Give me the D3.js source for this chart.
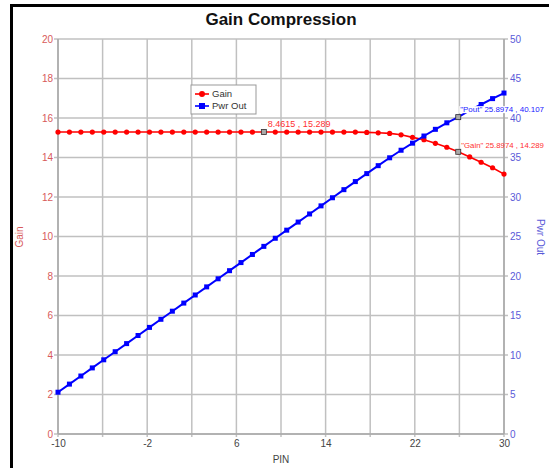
<!DOCTYPE html>
<html><head><meta charset="utf-8">
<script src="https://cdn.jsdelivr.net/npm/d3@7"></script>
<style>body{margin:0;background:#fff}svg{display:block;font-family:"Liberation Sans",Arial,sans-serif}</style>
</head><body><svg id="c" width="549" height="468"></svg>
<script>
const pin = [-10, -8.9744, -7.9487, -6.9231, -5.8974, -4.8718, -3.8462, -2.8205, -1.7949, -0.7692,
  0.2564, 1.2821, 2.3077, 3.3333, 4.359, 5.3846, 6.4103, 7.4359, 8.4615, 9.4872,
  10.5128, 11.5385, 12.5641, 13.5897, 14.6154, 15.641, 16.6667, 17.6923, 18.7179, 19.7436,
  20.7692, 21.7949, 22.8205, 23.8462, 24.8718, 25.8974, 26.9231, 27.9487, 28.9744, 30];
const gain = [15.289, 15.289, 15.289, 15.289, 15.289, 15.289, 15.289, 15.289, 15.289, 15.289,
  15.289, 15.289, 15.289, 15.289, 15.289, 15.289, 15.289, 15.289, 15.289, 15.289,
  15.289, 15.289, 15.289, 15.289, 15.289, 15.288, 15.285, 15.27, 15.25, 15.22,
  15.15, 15.02, 14.90, 14.72, 14.52, 14.289, 14.03, 13.76, 13.48, 13.16];
const pwrOut = [5.289, 6.3146, 7.3403, 8.3659, 9.3916, 10.4172, 11.4428, 12.4685, 13.4941, 14.5198,
  15.5454, 16.5711, 17.5967, 18.6223, 19.648, 20.6736, 21.6993, 22.7249, 23.7505, 24.7762,
  25.8018, 26.8275, 27.8531, 28.8787, 29.9044, 30.929, 31.9517, 32.9623, 33.9679, 34.9636,
  35.9192, 36.8149, 37.7205, 38.5662, 39.3918, 40.107, 40.953, 41.709, 42.454, 43.16];
const xGrid = [-10, -6, -2, 2, 6, 10, 14, 18, 22, 26, 30];
const xTickLabels = [-10, -2, 6, 14, 22, 30];
const gainTicks = [0, 2, 4, 6, 8, 10, 12, 14, 16, 18, 20];
const poutTicks = [0, 5, 10, 15, 20, 25, 30, 35, 40, 45, 50];
const seriesNames = ["Gain", "Pwr Out"];
const title = "Gain Compression";

const svg = d3.select("#c");
const L = 58, R = 504, T = 39, B = 434;
const x = d3.scaleLinear().domain([-10, 30]).range([L, R]);
const yL = d3.scaleLinear().domain([0, 20]).range([B, T]);
const yR = d3.scaleLinear().domain([0, 50]).range([B, T]);
const RED = "#ff0000", BLUE = "#0000ff", LRED = "#d85a5a", LBLUE = "#5a5ad8";
const fmt = d => String(d);

// frame (left and top edges visible)
svg.append("path").attr("d", "M11.5,470 L11.5,5.5 L560,5.5")
  .attr("fill", "none").attr("stroke", "#000").attr("stroke-width", 3);

// title
svg.append("text").attr("x", 281).attr("y", 25).attr("text-anchor", "middle")
  .attr("font-size", 17).attr("font-weight", "bold").attr("fill", "#111").text(title);

// grid
const g = svg.append("g");
g.selectAll("line").data(xGrid).join("line")
  .attr("x1", d => x(d)).attr("x2", d => x(d)).attr("y1", T).attr("y2", B + 3)
  .attr("stroke", "#c0c0c0").attr("stroke-width", 1.5);
const g2 = svg.append("g");
g2.selectAll("line").data(gainTicks).join("line")
  .attr("x1", L - 4).attr("x2", R + 4).attr("y1", d => yL(d)).attr("y2", d => yL(d))
  .attr("stroke", "#c0c0c0").attr("stroke-width", 1.5);
// axis lines
svg.append("line").attr("x1", L).attr("x2", L).attr("y1", T).attr("y2", B).attr("stroke", "#a8a8a8").attr("stroke-width", 1.5);
svg.append("line").attr("x1", R).attr("x2", R).attr("y1", T).attr("y2", B).attr("stroke", "#a8a8a8").attr("stroke-width", 1.5);
svg.append("line").attr("x1", L).attr("x2", R).attr("y1", B).attr("y2", B).attr("stroke", "#a8a8a8").attr("stroke-width", 1.5);

// axis tick labels
const axL = svg.append("g").attr("transform", `translate(${L},0)`)
  .call(d3.axisLeft(yL).tickValues(gainTicks).tickFormat(fmt).tickSize(0).tickPadding(5));
axL.select(".domain").remove();
axL.selectAll("text").attr("fill", LRED).attr("font-size", 10).attr("font-family", "Liberation Sans, Arial");
const axR = svg.append("g").attr("transform", `translate(${R},0)`)
  .call(d3.axisRight(yR).tickValues(poutTicks).tickFormat(fmt).tickSize(0).tickPadding(6));
axR.select(".domain").remove();
axR.selectAll("text").attr("fill", LBLUE).attr("font-size", 10).attr("font-family", "Liberation Sans, Arial");
const axB = svg.append("g").attr("transform", `translate(0,${B})`)
  .call(d3.axisBottom(x).tickValues(xTickLabels).tickFormat(fmt).tickSize(0).tickPadding(6));
axB.select(".domain").remove();
axB.selectAll("text").attr("fill", "#444").attr("font-size", 10).attr("font-family", "Liberation Sans, Arial");

// axis titles
svg.append("text").attr("transform", "translate(23,237) rotate(-90)").attr("text-anchor", "middle")
  .attr("font-size", 10).attr("fill", LRED).text("Gain");
svg.append("text").attr("transform", "translate(537,237) rotate(90)").attr("text-anchor", "middle")
  .attr("font-size", 10).attr("fill", LBLUE).text("Pwr Out");
svg.append("text").attr("x", 281).attr("y", 463).attr("text-anchor", "middle")
  .attr("font-size", 10).attr("fill", "#444").text("PIN");

// series
const gainData = pin.map((p, i) => [p, gain[i]]);
const poutData = pin.map((p, i) => [p, pwrOut[i]]);
svg.append("path").datum(gainData).attr("fill", "none").attr("stroke", RED).attr("stroke-width", 1.6)
  .attr("d", d3.line().x(d => x(d[0])).y(d => yL(d[1])));
svg.selectAll("circle.g").data(gainData).join("circle")
  .attr("cx", d => x(d[0])).attr("cy", d => yL(d[1])).attr("r", 2.6).attr("fill", RED);
svg.append("path").datum(poutData).attr("fill", "none").attr("stroke", BLUE).attr("stroke-width", 2)
  .attr("d", d3.line().x(d => x(d[0])).y(d => yR(d[1])));
svg.selectAll("rect.p").data(poutData).join("rect")
  .attr("x", d => x(d[0]) - 2.5).attr("y", d => yR(d[1]) - 2.5).attr("width", 5).attr("height", 5).attr("fill", BLUE);

// highlighted points & labels
const hl = [
  {i: 18, s: "g", text: `${pin[18]} , ${gain[18]}`, dx: 4, dy: -5, col: "#ff3030", bg: false},
  {i: 35, s: "g", text: `"Gain" ${pin[35]} , ${gain[35]}`, dx: 3, dy: -4, col: "#ff3030", bg: false},
  {i: 35, s: "p", text: `"Pout" ${pin[35]} , ${pwrOut[35]}`, dx: 2, dy: -5, col: "#2020ff", bg: true}
];
hl.forEach(h => {
  const px = x(pin[h.i]);
  const py = h.s === "g" ? yL(gain[h.i]) : yR(pwrOut[h.i]);
  const t = svg.append("text").attr("x", px + h.dx).attr("y", py + h.dy)
    .attr("font-size", 9).attr("fill", h.col).text(h.text);
  const maxW = 544 - (px + h.dx);
  const w = t.node().getComputedTextLength();
  if (w > maxW) t.attr("font-size", (9 * maxW / w).toFixed(2));
  if (h.bg) {
    const bb = t.node().getBBox();
    const r = svg.append("rect").attr("x", bb.x - 1).attr("y", bb.y + 1).attr("width", bb.width + 2)
      .attr("height", bb.height - 2).attr("fill", "#fff");
    svg.node().insertBefore(r.node(), t.node());
  }
  svg.append("rect").attr("x", px - 2.5).attr("y", py - 2.5).attr("width", 5).attr("height", 5)
    .attr("fill", "#aaa").attr("stroke", "#333").attr("stroke-width", 0.8);
});

// legend
const lg = svg.append("g").attr("transform", "translate(191,85)");
lg.append("rect").attr("width", 65).attr("height", 29).attr("fill", "#fff").attr("stroke", "#999");
lg.append("line").attr("x1", 4).attr("x2", 18).attr("y1", 9).attr("y2", 9).attr("stroke", RED).attr("stroke-width", 1.6);
lg.append("circle").attr("cx", 11).attr("cy", 9).attr("r", 3).attr("fill", RED);
lg.append("line").attr("x1", 4).attr("x2", 18).attr("y1", 21).attr("y2", 21).attr("stroke", BLUE).attr("stroke-width", 1.6);
lg.append("rect").attr("x", 8).attr("y", 18).attr("width", 6).attr("height", 6).attr("fill", BLUE);
lg.selectAll("text").data(seriesNames).join("text").attr("x", 21).attr("y", (d, i) => 12 + i * 12)
  .attr("font-size", 9.5).attr("fill", "#333").text(d => d);
</script></body></html>
